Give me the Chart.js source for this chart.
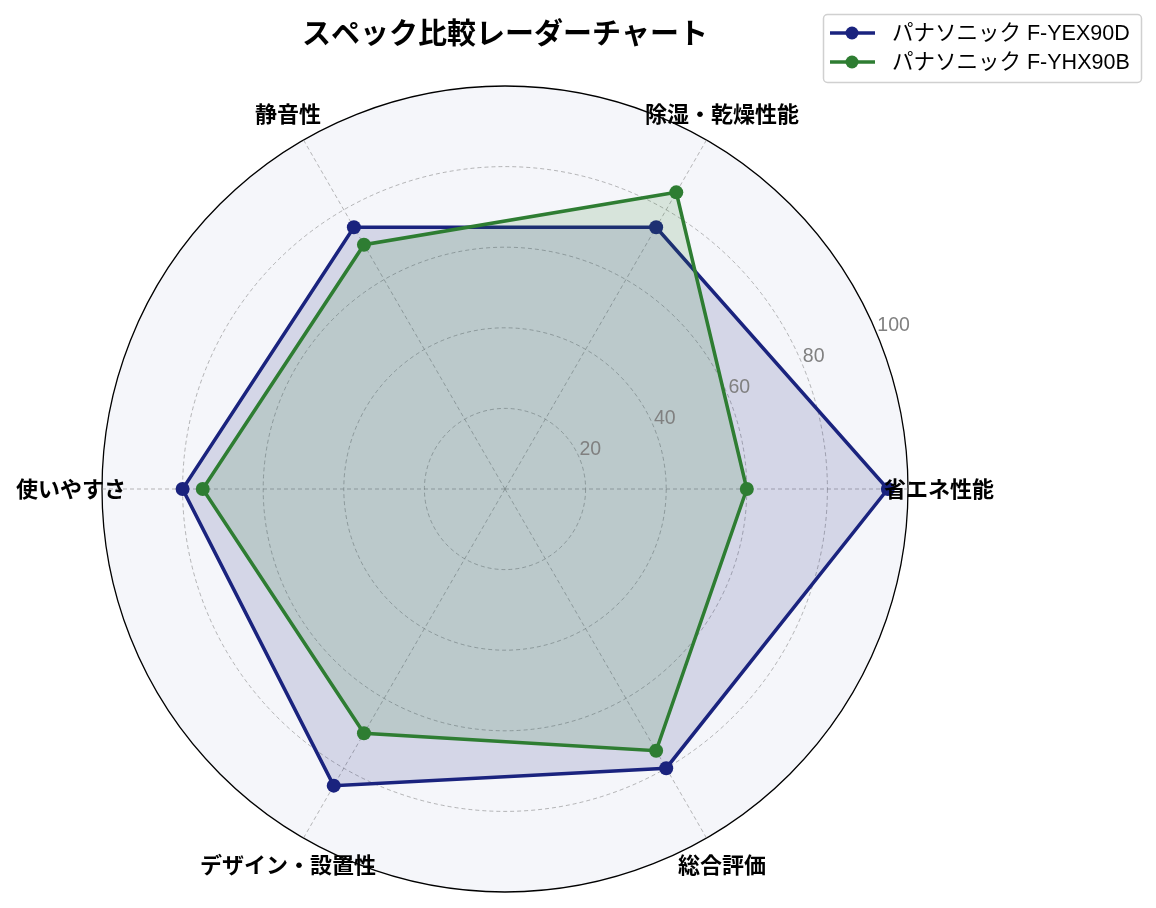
<!DOCTYPE html>
<html>
<head>
<meta charset="utf-8">
<script src="https://cdn.jsdelivr.net/npm/chart.js@4"></script>
<style>
  html, body { margin: 0; padding: 0; background: #fff; }
  canvas { display: block; }
</style>
</head>
<body>
<canvas id="radar" width="1156" height="908"></canvas>
<script>
// categories, clockwise from the right (Chart.js goes clockwise)
const categories = ['省エネ性能', '総合評価', 'デザイン・設置性', '使いやすさ', '静音性', '除湿・乾燥性能'];
const yexValues = [95, 80, 85, 80, 75, 75];
const yhxValues = [60, 75, 70, 75, 70, 85];
const seriesNames = ['パナソニック F-YEX90D', 'パナソニック F-YHX90B'];
const tickValues = [20, 40, 60, 80, 100];
const chartTitle = 'スペック比較レーダーチャート';

const BLUE = '#1a237e';
const GREEN = '#2e7d32';
const JP = '"Noto Sans CJK JP", "Noto Sans", sans-serif';
const LATIN_JP = '"Liberation Sans", "Noto Sans CJK JP", sans-serif';

// radial tick labels at 22.5deg like matplotlib, plus category labels
const labelsPlugin = {
  id: 'labels',
  afterDatasetsDraw(chart) {
    const scale = chart.scales.r;
    const ctx = chart.ctx;
    const a = 22.5 * Math.PI / 180;
    ctx.save();
    ctx.fillStyle = '#808080';
    ctx.font = '19.5px "Liberation Sans", sans-serif';
    ctx.textAlign = 'left';
    ctx.textBaseline = 'bottom';
    tickValues.forEach(v => {
      const d = scale.getDistanceFromCenterForValue(v);
      ctx.fillText(String(v), scale.xCenter + d * Math.cos(a), scale.yCenter - d * Math.sin(a) + 1);
    });
    ctx.restore();
  },
  afterDraw(chart) {
    const scale = chart.scales.r;
    const ctx = chart.ctx;
    ctx.save();
    ctx.fillStyle = '#000';
    ctx.font = 'bold 22px ' + JP;
    ctx.textAlign = 'center';
    ctx.textBaseline = 'middle';
    categories.forEach((c, i) => {
      const p = scale.getPointPosition(i, scale.drawingArea + 31);
      ctx.fillText(c, p.x, p.y);
    });

    // title
    ctx.font = 'bold 29px ' + JP;
    ctx.fillText(chartTitle, scale.xCenter, 33);

    // legend
    ctx.beginPath();
    ctx.roundRect(823.5, 14.5, 318, 68, 4);
    ctx.fillStyle = 'rgba(255,255,255,0.8)';
    ctx.fill();
    ctx.strokeStyle = '#d0d0d0';
    ctx.lineWidth = 1.5;
    ctx.stroke();
    [BLUE, GREEN].forEach((col, i) => {
      const y = 33 + i * 29;
      ctx.strokeStyle = col;
      ctx.lineWidth = 3.5;
      ctx.beginPath();
      ctx.moveTo(830, y);
      ctx.lineTo(875, y);
      ctx.stroke();
      ctx.fillStyle = col;
      ctx.beginPath();
      ctx.arc(852, y, 6.5, 0, Math.PI * 2);
      ctx.fill();
      ctx.fillStyle = '#000';
      ctx.font = '21.5px ' + LATIN_JP;
      ctx.textAlign = 'left';
      ctx.fillText(seriesNames[i], 892, y + 1);
    });
    ctx.restore();
  }
};

new Chart(document.getElementById('radar'), {
  type: 'radar',
  data: {
    labels: categories,
    datasets: [
      {
        label: seriesNames[0], data: yexValues, order: 2,
        borderColor: BLUE, backgroundColor: 'rgba(26,35,126,0.15)', fill: true,
        borderWidth: 3.5, pointRadius: 7, pointBackgroundColor: BLUE, pointBorderWidth: 0
      },
      {
        label: seriesNames[1], data: yhxValues, order: 1,
        borderColor: GREEN, backgroundColor: 'rgba(46,125,50,0.15)', fill: true,
        borderWidth: 3.5, pointRadius: 7, pointBackgroundColor: GREEN, pointBorderWidth: 0
      }
    ]
  },
  options: {
    responsive: false,
    animation: false,
    layout: { padding: { left: 102, right: 248, top: 86, bottom: 16 } },
    plugins: { legend: { display: false }, title: { display: false }, tooltip: { enabled: false } },
    scales: {
      r: {
        min: 0, max: 100, startAngle: 90,
        backgroundColor: '#f5f6fa',
        ticks: { display: false, stepSize: 20 },
        pointLabels: { display: false },
        grid: {
          circular: true,
          color: c => (c.tick && c.tick.value === 100) ? '#000' : 'rgba(128,128,128,0.7)',
          lineWidth: c => (c.tick && c.tick.value === 100) ? 1.3 : 0.8
        },
        border: { dash: c => (c.tick && c.tick.value === 100) ? [] : [4, 3] },
        angleLines: { color: 'rgba(128,128,128,0.7)', lineWidth: 0.8, borderDash: [4, 3] }
      }
    }
  },
  plugins: [labelsPlugin]
});
</script>
</body>
</html>
